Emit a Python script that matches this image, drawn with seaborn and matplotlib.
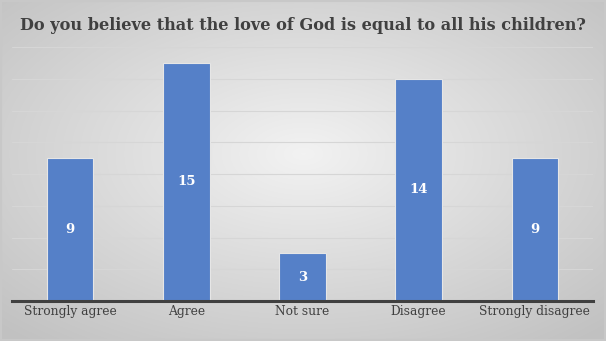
import numpy as np
import pandas as pd
import matplotlib
matplotlib.use("Agg")
import matplotlib.pyplot as plt
import seaborn as sns

categories = ["Strongly agree", "Agree", "Not sure", "Disagree", "Strongly disagree"]
values = [9, 15, 3, 14, 9]
title = "Do you believe that the love of God is equal to all his children?"

df = pd.DataFrame({"cat": categories, "val": values})

sns.set_theme(style="white")
plt.rcParams["font.family"] = ["DejaVu Serif"]

W, H = 606, 341
fig = plt.figure(figsize=(W / 100, H / 100), dpi=100)

# radial gradient background
bg = fig.add_axes([0, 0, 1, 1], zorder=-10)
yy, xx = np.mgrid[0:H, 0:W]
r = np.sqrt(((xx - W * 0.5) / (W * 0.5)) ** 2 + ((yy - H * 0.45) / (H * 0.5)) ** 2) / np.sqrt(2)
r = np.clip(r, 0, 1)
c = 0.95 - 0.19 * r
bg.imshow(np.dstack([c, c, c]), extent=[0, 1, 0, 1], aspect="auto", interpolation="bilinear")
bg.set_xlim(0, 1); bg.set_ylim(0, 1)
bg.axis("off")
bg.add_patch(plt.Rectangle((0.001, 0.002), 0.998, 0.996, fill=False, edgecolor="#c8c8c8", lw=1.5))

ax = fig.add_axes([12 / W, (H - 301) / H, (593 - 12) / W, (301 - 47) / H])
ax.patch.set_alpha(0)
sns.barplot(data=df, x="cat", y="val", ax=ax, color="#5580c8", saturation=1,
            width=0.4, edgecolor="#e6e6e6", linewidth=0.8, zorder=3)
ax.set_ylim(0, 16)
ax.set_xlim(-0.5, 4.5)
ax.set_yticks(np.arange(0, 17, 2))
ax.yaxis.grid(True, color="#d6d6d6", lw=0.8, zorder=0)
ax.set_yticklabels([])
ax.tick_params(axis="y", length=0)
ax.tick_params(axis="x", length=0, pad=3, labelsize=8.8, labelcolor="#404040")
ax.set_xlabel(""); ax.set_ylabel("")
for s in ["top", "right", "left"]:
    ax.spines[s].set_visible(False)
ax.spines["bottom"].set_color("#404040")
ax.spines["bottom"].set_linewidth(2.2)
ax.spines["bottom"].set_zorder(5)

for i, v in enumerate(values):
    ax.text(i, v / 2, str(v), ha="center", va="center", color="white",
            fontsize=9.5, fontweight="bold", zorder=6)

fig.text(0.5, (H - 26) / H, title, ha="center", va="center", fontsize=11.6,
         fontweight="bold", color="#404040")

fig.savefig("out.png", dpi=100)
